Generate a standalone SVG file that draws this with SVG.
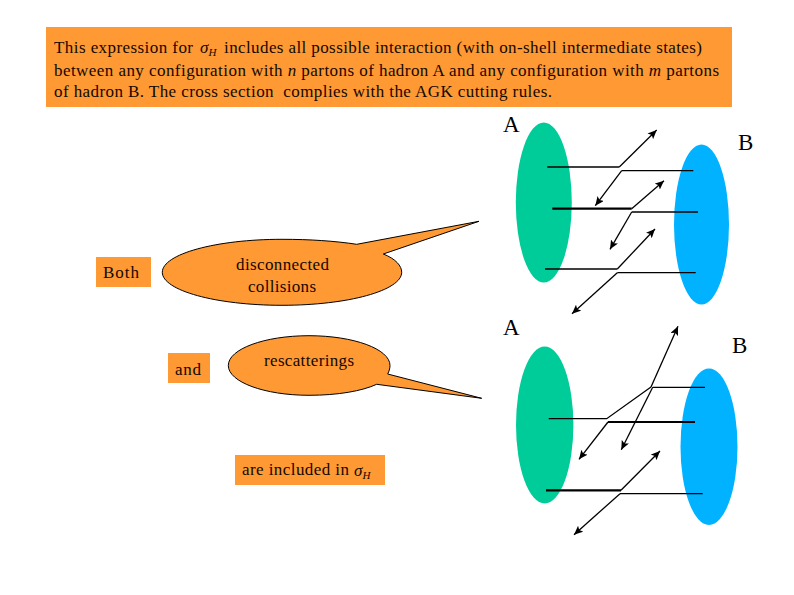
<svg xmlns="http://www.w3.org/2000/svg" width="794" height="595" viewBox="0 0 794 595">
<defs>
<marker id="arrow" markerUnits="userSpaceOnUse" markerWidth="10" markerHeight="8" refX="9" refY="4" orient="auto"><path d="M0,0 L9,4 L0,8 L2,4 Z" fill="#000"/></marker>
</defs>
<style>
text{font-family:"Liberation Serif","Times New Roman",serif;font-size:17px;fill:#140800;white-space:pre}
.lab{font-size:23px;fill:#000}
.i{font-style:italic}
.sub{font-size:11px;font-style:italic}
.box{fill:#FF9933}
.call{fill:#FF9933;stroke:#000;stroke-width:1}
.green{fill:#00CC99}
.blue{fill:#00B2FF}
.l{fill:none;stroke:#000;stroke-width:1.3}
.t{fill:none;stroke:#000;stroke-width:2.2}
.a{fill:none;stroke:#000;stroke-width:1.3;marker-end:url(#arrow)}
</style>
<rect width="794" height="595" fill="#fff"/>
<g id="intro">
<rect class="box" x="46" y="27" width="686" height="80"/>
<text x="54" y="53" textLength="139">This expression for</text>
<text x="200" y="53" class="i">σ<tspan class="sub" dy="3">H</tspan></text>
<text x="224" y="53" textLength="478">includes all possible interaction (with on-shell intermediate states)</text>
<text x="54" y="76" textLength="665">between any configuration with <tspan class="i">n</tspan> partons of hadron A and any configuration with <tspan class="i">m</tspan> partons</text>
<text x="54" y="97" textLength="498">of hadron B. The cross section  complies with the AGK cutting rules.</text>
</g>
<g id="both"><rect class="box" x="96" y="257" width="55" height="30"/><text x="103" y="278" textLength="36">Both</text></g>
<g id="and"><rect class="box" x="168" y="353" width="42" height="30"/><text x="175" y="375" textLength="26">and</text></g>
<g id="included"><rect class="box" x="235" y="455" width="150" height="30"/><text x="242" y="475" textLength="107">are included in</text><text x="354" y="476" class="i">σ<tspan class="sub" dy="3">H</tspan></text></g>
<g id="callout-disconnected">
<path class="call" d="M356.7,244.3 L479,221.3 L383.3,254 C396,259 401.7,266 401.7,272.3 C401.7,290.5 348,305.3 282,305.3 C216,305.3 162.3,290.5 162.3,272.3 C162.3,254 216,239.3 282,239.3 C310,239.3 335,241 356.7,244.3 Z"/>
<text x="236" y="270" textLength="93">disconnected</text><text x="248" y="292" textLength="68">collisions</text>
</g>
<g id="callout-rescatterings">
<path class="call" d="M387.7,374 L481.7,398.3 L376.7,384.3 C362,391 338,395.3 309,395.3 C264.500,395.3 228.3,382 228.3,365.500 C228.3,349 264.500,335.700 309,335.700 C353.500,335.700 390,349 390,365.500 C390,368.500 389,371.500 387.7,374 Z"/>
<text x="264" y="366" textLength="90">rescatterings</text>
</g>
<g id="hadron-a-top"><ellipse class="green" cx="543.800" cy="202.500" rx="28" ry="80"/><text class="lab" x="503" y="132">A</text></g>
<g id="hadron-b-top"><ellipse class="blue" cx="701.500" cy="224.500" rx="27.500" ry="80"/><text class="lab" x="738" y="150">B</text></g>
<g id="hadron-a-bottom"><ellipse class="green" cx="544.700" cy="425" rx="28.700" ry="78.500"/><text class="lab" x="503" y="335">A</text></g>
<g id="hadron-b-bottom"><ellipse class="blue" cx="709" cy="446.700" rx="28.500" ry="78.300"/><text class="lab" x="732" y="353">B</text></g>
<g id="connectors">
<path class="l" d="M547.300,167 H619.300"/><path class="a" d="M619.300,167 L656.700,130"/>
<path class="l" d="M693.300,170.700 H621.700"/><path class="a" d="M621.700,170.700 L595.300,205.700"/>
<path class="t" d="M552.300,208.700 H631.700"/><path class="a" d="M631.700,208.700 L664,180.700"/>
<path class="l" d="M698,212 H631.700"/><path class="a" d="M631.700,212 L610,249.300"/>
<path class="l" d="M545,269 H617.300"/><path class="a" d="M617.300,269 L655,229"/>
<path class="l" d="M695.700,272.700 H617.300"/><path class="a" d="M617.300,272.700 L572,313.700"/>
<path class="l" d="M548.700,418.700 H606.700 L651,387"/><path class="a" d="M651,387 L678,326.300"/>
<path class="l" d="M705,387.300 H652.700"/><path class="a" d="M652.700,387.300 L621.300,449.700"/>
<path class="t" d="M695,422 H608"/><path class="a" d="M608,422 L579,459.300"/>
<path class="t" d="M546,490.300 H621"/><path class="a" d="M621,490.300 L660,451"/>
<path class="l" d="M702.700,493.700 H620"/><path class="a" d="M620,493.700 L574,534.700"/>
</g>
</svg>
